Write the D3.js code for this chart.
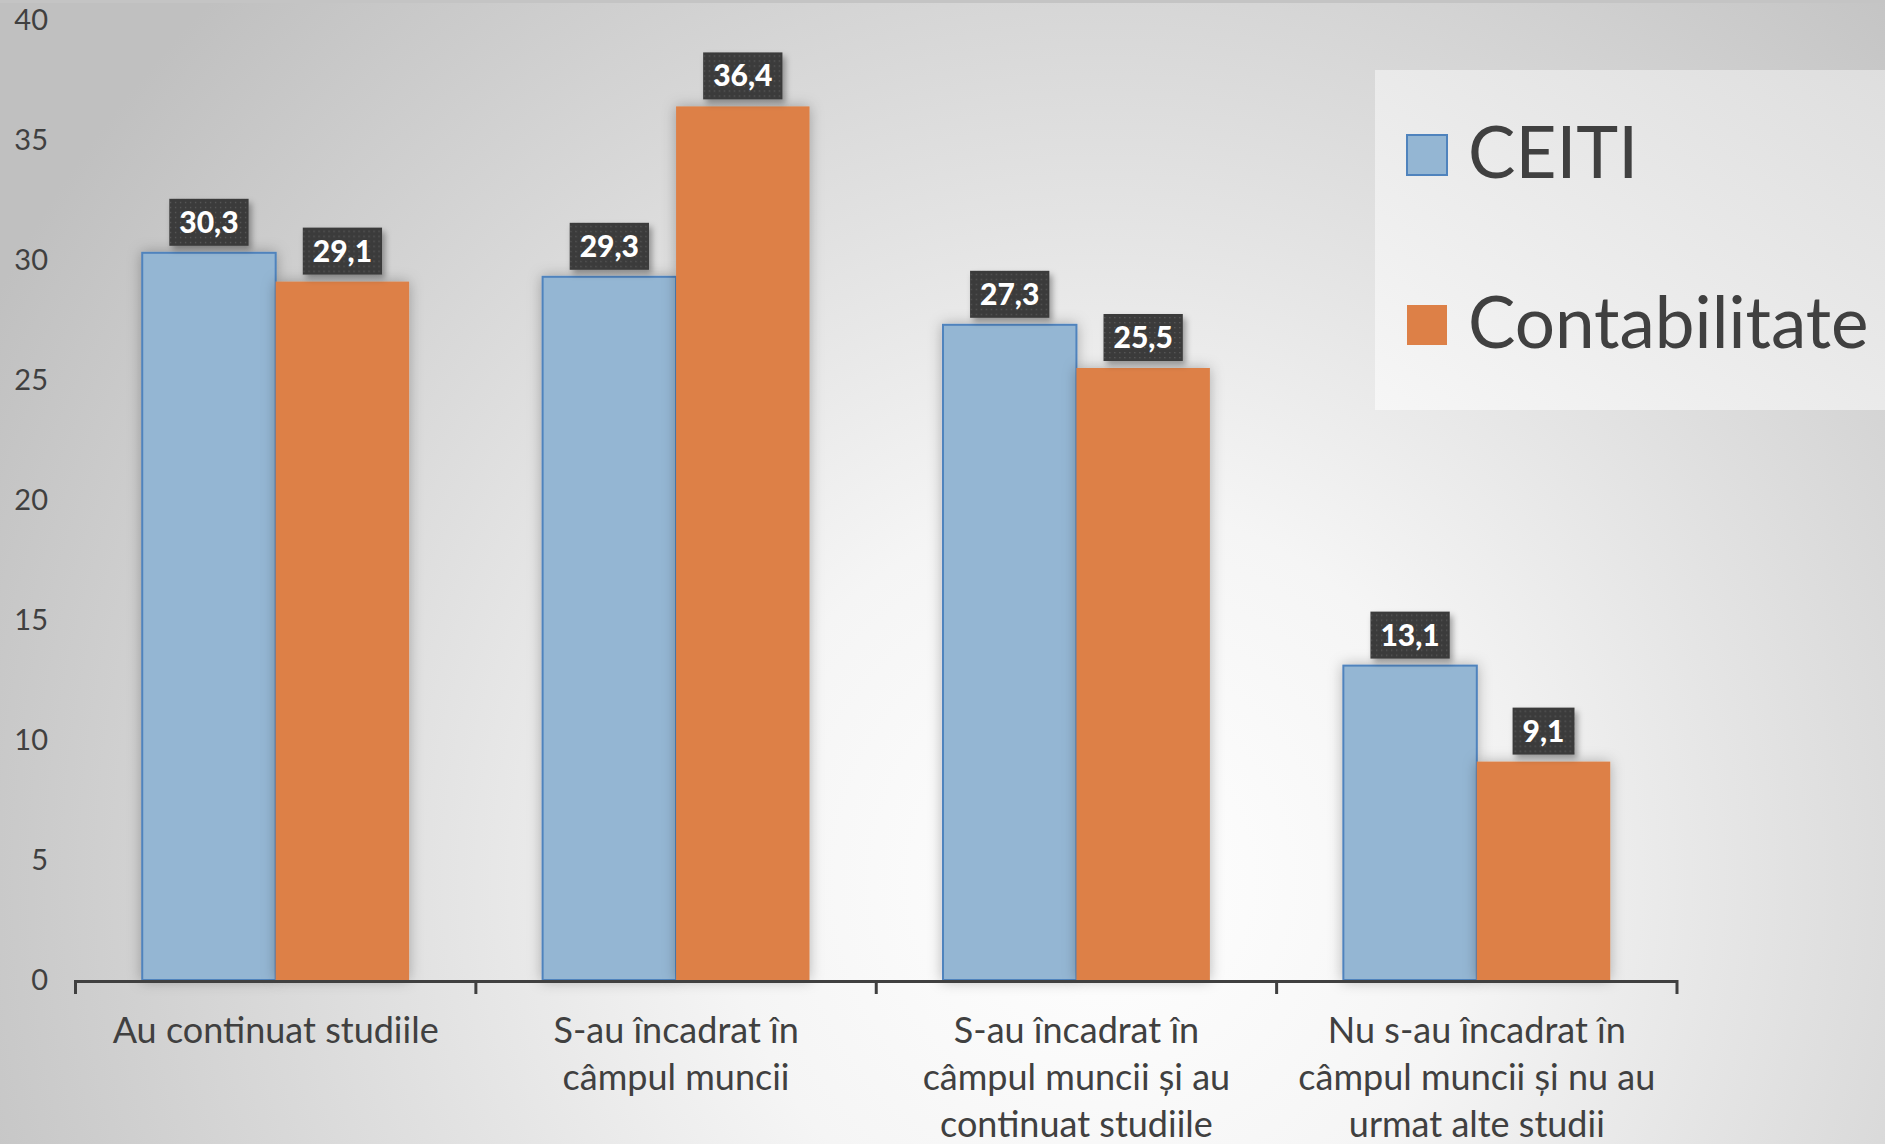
<!DOCTYPE html>
<html><head><meta charset="utf-8">
<script src="https://cdn.jsdelivr.net/npm/d3@7"></script>
<style>
html,body{margin:0;padding:0;background:#d0d0d0;}
svg{display:block;}
</style></head>
<body>
<svg id="chart" width="1885" height="1144"></svg>
<script>
const categories = [
  ["Au continuat studiile"],
  ["S-au încadrat în", "câmpul muncii"],
  ["S-au încadrat în", "câmpul muncii și au", "continuat studiile"],
  ["Nu s-au încadrat în", "câmpul muncii și nu au", "urmat alte studii"]
];
const seriesNames = ["CEITI", "Contabilitate"];
const ceitiValues = [30.3, 29.3, 27.3, 13.1];
const contabValues = [29.1, 36.4, 25.5, 9.1];
const yTicks = [0, 5, 10, 15, 20, 25, 30, 35, 40];

const fills = {"CEITI": "#94b6d3", "Contabilitate": "#dd8047"};
const strokes = {"CEITI": "#4f83bd", "Contabilitate": "#dd8047"};
const data = categories.map((c, i) => ({key: i, lines: c, values: [
  {s: "CEITI", v: ceitiValues[i]}, {s: "Contabilitate", v: contabValues[i]}]}));

const svg = d3.select("#chart");
const W = 1885, H = 1144;
const defs = svg.append("defs");
const bg = defs.append("radialGradient").attr("id", "bg").attr("gradientUnits", "userSpaceOnUse")
  .attr("cx", 1100).attr("cy", 880).attr("r", 1250);
bg.append("stop").attr("offset", 0).attr("stop-color", "#ffffff");
bg.append("stop").attr("offset", 0.3).attr("stop-color", "#f5f5f5");
bg.append("stop").attr("offset", 1).attr("stop-color", "#c0c0c0");
const lg = defs.append("linearGradient").attr("id", "lg").attr("x1", 0).attr("y1", 1).attr("x2", 1).attr("y2", 0);
lg.append("stop").attr("offset", 0).attr("stop-color", "#f6f6f6");
lg.append("stop").attr("offset", 1).attr("stop-color", "#dedede");
const sh = defs.append("filter").attr("id", "sh").attr("x", "-20%").attr("y", "-20%").attr("width", "140%").attr("height", "140%");
sh.append("feDropShadow").attr("dx", 0).attr("dy", 0).attr("stdDeviation", 7).attr("flood-color", "#000").attr("flood-opacity", 0.28);
const sh2 = defs.append("filter").attr("id", "sh2").attr("x", "-30%").attr("y", "-30%").attr("width", "170%").attr("height", "170%");
sh2.append("feDropShadow").attr("dx", 3).attr("dy", 4).attr("stdDeviation", 3).attr("flood-color", "#000").attr("flood-opacity", 0.35);
const pat = defs.append("pattern").attr("id", "dots").attr("patternUnits", "userSpaceOnUse").attr("width", 5).attr("height", 5);
pat.append("rect").attr("width", 5).attr("height", 5).attr("fill", "#3b3b3b");
pat.append("rect").attr("x", 1).attr("y", 1).attr("width", 1.3).attr("height", 1.3).attr("fill", "#5a5a5a");

svg.append("rect").attr("width", W).attr("height", H).attr("fill", "url(#bg)");
svg.append("rect").attr("width", W).attr("height", 3).attr("fill", "#c4c4c4");

const x0 = d3.scaleBand().domain(data.map(d => d.key)).range([75.5, 1677]).padding(0);
const x1 = d3.scaleBand().domain(seriesNames).range([x0.bandwidth() / 6, x0.bandwidth() * 5 / 6]).padding(0);
const y = d3.scaleLinear().domain([0, 40]).range([980, 20]);

// y tick labels
svg.append("g").selectAll("text").data(yTicks).join("text")
  .attr("x", 48).attr("y", d => y(d)).attr("dy", "0.36em")
  .attr("text-anchor", "end").attr("fill", "#404040")
  .style("font-family", "Lato, 'Open Sans', sans-serif").style("font-size", "29px")
  .text(d => d);

// bars
const groups = svg.append("g").selectAll("g").data(data).join("g")
  .attr("transform", d => `translate(${x0(d.key)},0)`);
groups.selectAll("rect").data(d => d.values).join("rect")
  .attr("x", d => x1(d.s)).attr("width", x1.bandwidth())
  .attr("y", d => y(d.v)).attr("height", d => y(0) - y(d.v))
  .attr("fill", d => fills[d.s]).attr("stroke", d => strokes[d.s]).attr("stroke-width", d => d.s === "CEITI" ? 2 : 0)
  .attr("filter", "url(#sh)");

// x axis
const xa = svg.append("g");
xa.append("line").attr("x1", x0.range()[0]).attr("x2", x0.range()[1]).attr("y1", 981.5).attr("y2", 981.5)
  .attr("stroke", "#404040").attr("stroke-width", 3);
const bounds = data.map(d => x0(d.key)).concat([x0.range()[1]]);
xa.selectAll("line.tick").data(bounds).join("line").attr("class", "tick")
  .attr("x1", d => d).attr("x2", d => d).attr("y1", 980).attr("y2", 994)
  .attr("stroke", "#404040").attr("stroke-width", 3);

// category labels
const cl = svg.append("g").selectAll("text").data(data).join("text")
  .attr("text-anchor", "middle").attr("fill", "#404040")
  .style("font-family", "Lato, 'Open Sans', sans-serif").style("font-size", "36px");
cl.selectAll("tspan").data(d => d.lines.map((l, i) => ({l, i, cx: x0(d.key) + x0.bandwidth() / 2}))).join("tspan")
  .attr("x", d => d.cx).attr("y", d => 1043 + d.i * 47).text(d => d.l);

// data labels
const labels = groups.selectAll("g.lab").data(d => d.values).join("g").attr("class", "lab")
  .attr("transform", d => `translate(${x1(d.s) + x1.bandwidth() / 2},${y(d.v) - 7})`);
labels.each(function(d) {
  const g = d3.select(this);
  const t = g.append("text").attr("text-anchor", "middle").attr("fill", "#fff")
    .style("font-family", "Lato, 'Open Sans', sans-serif").style("font-weight", "900").style("font-size", "30px")
    .attr("y", -13).text(String(d.v).replace(".", ","));
  const w = t.node().getComputedTextLength() + 20;
  g.insert("rect", "text").attr("x", -w / 2).attr("y", -47).attr("width", w).attr("height", 47)
    .attr("fill", "url(#dots)").attr("filter", "url(#sh2)");
});

// legend
const leg = svg.append("g");
leg.append("rect").attr("x", 1375).attr("y", 70).attr("width", 520).attr("height", 340).attr("fill", "url(#lg)");
const li = leg.selectAll("g").data(seriesNames).join("g")
  .attr("transform", (d, i) => `translate(1407,${135 + i * 170})`);
li.append("rect").attr("width", 40).attr("height", 40)
  .attr("fill", d => fills[d]).attr("stroke", d => strokes[d]).attr("stroke-width", d => d === "CEITI" ? 2 : 0);
li.append("text").attr("x", 61).attr("y", 43).attr("fill", "#404040")
  .style("font-family", "Lato, 'Open Sans', sans-serif").style("font-size", "71px").text(d => d);
</script>
</body></html>
